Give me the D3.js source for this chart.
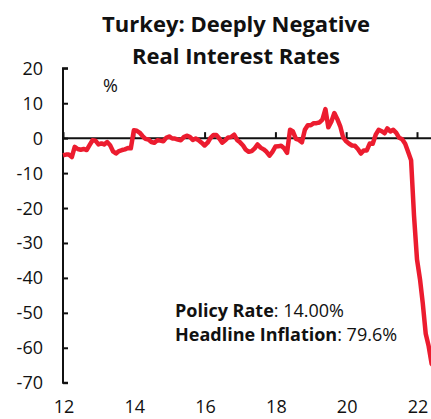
<!DOCTYPE html>
<html>
<head>
<meta charset="utf-8">
<script src="https://cdn.jsdelivr.net/npm/d3@7"></script>
<style>
  html, body { margin: 0; padding: 0; background: #fff; }
  svg { display: block; }
  text { font-family: "Open Sans", sans-serif; fill: #111; }
</style>
</head>
<body>
<div id="chart"></div>
<script>
// ---- Data (monthly real policy rate, %, Jan 2012 - Jul 2022) ----
const startMonth = "2012-01";
const realRate = [
  // 2012
  -4.9, -4.7, -4.7, -5.4, -2.5, -3.1, -3.3, -3.1, -3.4, -2.0, -0.6, -0.7,
  // 2013
  -1.8, -1.5, -1.8, -1.1, -2.0, -3.8, -4.4, -3.7, -3.4, -3.2, -2.8, -2.9,
  // 2014
  2.25, 2.1, 1.6, 0.6, -0.2, -0.4, -1.1, -1.3, -0.6, -0.7, -0.9, 0.1,
  // 2015
  0.5, -0.1, -0.1, -0.4, -0.6, 0.3, 0.7, 0.4, -0.5, -0.1, -0.6, -1.3,
  // 2016
  -2.1, -1.3, 0.0, 0.9, 0.9, -0.1, -1.3, -0.6, 0.2, 0.3, 1.0, -0.5,
  // 2017
  -1.2, -2.1, -3.3, -3.9, -3.7, -2.9, -1.8, -2.7, -3.2, -3.9, -5.0, -3.9,
  // 2018
  -2.4, -2.3, -2.2, -2.9, -4.2, 2.4, 1.9, -0.2, -0.5, -1.2, 2.4, 3.7,
  // 2019
  3.7, 4.3, 4.3, 4.5, 5.3, 8.3, 3.1, 4.7, 7.2, 5.5, 3.4, 0.2,
  // 2020
  -0.9, -1.6, -2.1, -2.2, -3.1, -4.4, -3.5, -3.5, -1.5, -1.6, 1.0, 2.4,
  // 2021
  2.0, 1.4, 2.8, 1.9, 2.4, 1.5, 0.1, -0.3, -1.6, -3.9, -6.3, -22.1,
  // 2022
  -34.7, -40.4, -47.1, -56.0, -59.5, -64.6, -65.6
];
const yTicks = [20, 10, 0, -10, -20, -30, -40, -50, -60, -70];
const xTickYears = [2012, 2014, 2016, 2018, 2020, 2022];
const xTickLabels = ["12", "14", "16", "18", "20", "22"];
const titleLines = ["Turkey: Deeply Negative", "Real Interest Rates"];
const unitLabel = "%";
const notes = [
  { bold: "Policy Rate", rest: ": 14.00%" },
  { bold: "Headline Inflation", rest: ": 79.6%" }
];

// ---- Layout ----
const W = 431, H = 419;
const svg = d3.select("#chart").append("svg").attr("width", W).attr("height", H);

const parse = d3.timeParse("%Y-%m");
const t0 = parse(startMonth);
const data = realRate.map((v, i) => ({ date: d3.timeMonth.offset(t0, i), value: v }));

const x = d3.scaleTime()
  .domain([new Date(2012, 0, 1), new Date(2022, 0, 1)])
  .range([63, 417]);
const y = d3.scaleLinear().domain([-70, 20]).range([382.7, 68.3]);

// Title
svg.append("g").selectAll("text").data(titleLines).join("text")
  .attr("x", 236).attr("y", (d, i) => 32 + i * 31.5)
  .attr("text-anchor", "middle")
  .style("font-weight", "700").style("font-size", "22px")
  .text(d => d);

// Y axis (ticks pointing right)
const yAxis = d3.axisRight(y).tickValues(yTicks).tickSize(5).tickFormat("");
const gy = svg.append("g").attr("transform", `translate(${x.range()[0]},0)`).call(yAxis);
gy.select(".domain").attr("d", `M5,${y(20)}H0V${y(-70)}H5`).attr("stroke", "#111").attr("stroke-width", 2);
gy.selectAll(".tick line").attr("stroke", "#111").attr("stroke-width", 2);

svg.append("g").selectAll("text").data(yTicks).join("text")
  .attr("x", 43).attr("y", d => y(d))
  .attr("dy", "0.36em")
  .attr("text-anchor", "end")
  .style("font-size", "18px")
  .text(d => d);

// Zero line with upward ticks
const xAxis = d3.axisTop(x)
  .tickValues(xTickYears.map(yr => new Date(yr, 0, 1)))
  .tickSize(6).tickSizeOuter(0).tickFormat("");
const gx = svg.append("g").attr("transform", `translate(0,${y(0)})`).call(xAxis);
gx.select(".domain").attr("d", `M${x.range()[0]},0H${W}`).attr("stroke", "#111").attr("stroke-width", 2);
gx.selectAll(".tick line").attr("stroke", "#111").attr("stroke-width", 2);

// X labels at bottom
svg.append("g").selectAll("text").data(xTickYears).join("text")
  .attr("x", (d) => x(new Date(d, 0, 1)) + 1)
  .attr("y", 413)
  .attr("text-anchor", "middle")
  .style("font-size", "18px")
  .text((d, i) => xTickLabels[i]);

// Unit label
svg.append("text").attr("x", 103).attr("y", 92).style("font-size", "18px").text(unitLabel);

// Line
const line = d3.line().x(d => x(d.date)).y(d => y(d.value));
svg.append("path").datum(data)
  .attr("d", line)
  .attr("fill", "none")
  .attr("stroke", "#ec1c2f")
  .attr("stroke-width", 4.5)
  .attr("stroke-linejoin", "round");

// Annotation
const ann = svg.append("g").selectAll("text").data(notes).join("text")
  .attr("x", 175).attr("y", (d, i) => 317 + i * 23.5)
  .style("font-size", "18px");
ann.append("tspan").style("font-weight", "700").text(d => d.bold);
ann.append("tspan").text(d => d.rest);
</script>
</body>
</html>
